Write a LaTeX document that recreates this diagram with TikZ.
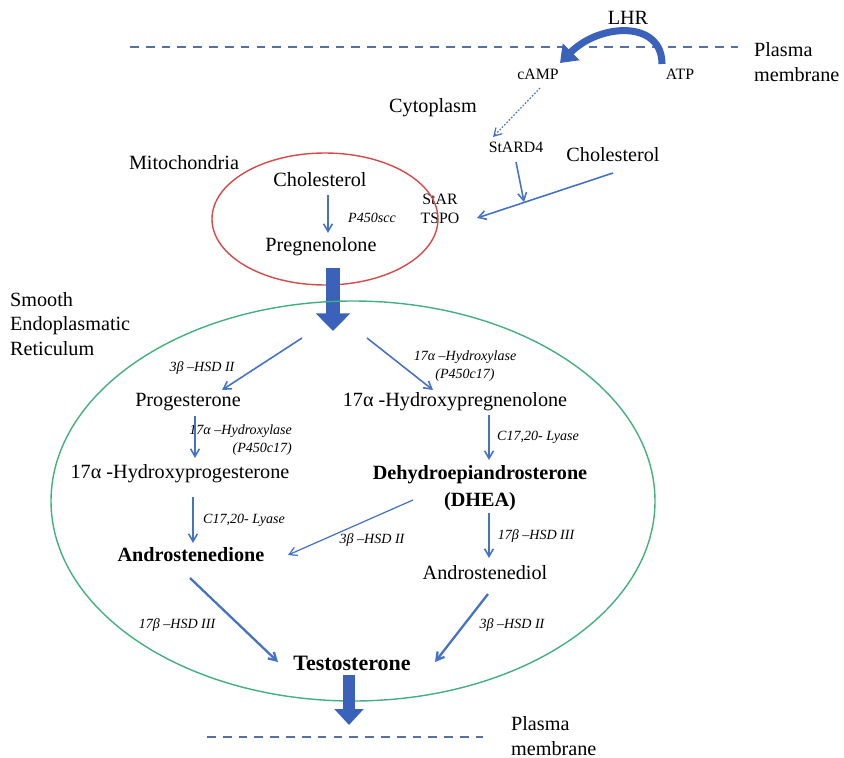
\documentclass[tikz,border=0pt]{standalone}
\usepackage{fontspec}
\setmainfont{Liberation Serif}
\usetikzlibrary{positioning, arrows.meta, calc}
\definecolor{arrowb}{RGB}{68,114,196}
\definecolor{thickb}{RGB}{58,98,186}
\definecolor{memb}{RGB}{84,112,164}
\definecolor{mitor}{RGB}{214,74,74}
\definecolor{serg}{RGB}{66,176,128}

\begin{document}
\begin{tikzpicture}[x=0.02cm, y=-0.02cm,
    every node/.style={inner sep=1pt, font=\rmfamily\fontsize{11.5}{14}\selectfont},
    small/.style={font=\rmfamily\fontsize{9}{10.5}\selectfont},
    enz/.style={font=\rmfamily\fontsize{8}{10}\selectfont\itshape},
    key/.style={font=\rmfamily\fontsize{11.5}{15}\selectfont\bfseries},
    ->/.style={-{Straight Barb[angle=60:5pt]}, arrowb, line width=0.9pt},
    membrane/.style={memb, line width=1.2pt, dash pattern=on 5pt off 4pt},
    big/.style={thickb, line width=8pt, -{Triangle[width=19pt,length=10pt]}}]
  \useasboundingbox (0,0) rectangle (844,757);

  % membrane and receptor
  \draw[membrane] (130,47) -- (738,47);
  \node (lhr) at (628,18) {LHR};
  \node[small] (camp) at (538,74) {cAMP};
  \node[small] (atp) at (680,74) {ATP};
  \node[anchor=west, align=left] (pmtop) at (752,62) {Plasma\\membrane};
  \draw[thickb, line width=4pt, -{Triangle[width=13pt,length=9pt]}]
    ($(atp)+(-18,-10)$) .. controls +(0,-44) and +(40,-40) .. ($(camp)+(22,-11)$);

  % cytoplasm
  \node (cyto) at (433,108) {Cytoplasm};
  \node[small] (stard) at (516,147) {StARD4};
  \node (cholc) at (613,155) {Cholesterol};
  \node[small, align=center] (star) at (440,209) {StAR\\TSPO};
  \coordinate (join) at (524,202);
  \draw[->, densely dotted, line width=0.7pt] ($(camp)+(2,14)$) -- ($(stard)+(-23,-10)$);
  \draw[->] ($(stard)+(0,15)$) -- (join);
  \draw[->] ($(cholc)+(0,18)$) -- ($(star)+(37,9)$);

  % mitochondria
  \node (mito) at (184,163) {Mitochondria};
  \draw[mitor, line width=0.8pt] (325,219) ellipse [x radius=113, y radius=66];
  \node (cholm) at (320,180) {Cholesterol};
  \node (preg) at (321,247) {Pregnenolone};
  \node[enz] (scc) at (372,218) {P450scc};
  \draw[->] ($(cholm)+(8,15)$) -- ($(preg)+(7,-14)$);
  \coordinate (erin) at (333,331);
  \draw[big] ($(preg)+(12,21)$) -- (erin);

  % smooth endoplasmatic reticulum
  \node[anchor=west, align=left] (ser) at (8,324) {Smooth\\Endoplasmatic\\Reticulum};
  \draw[serg, line width=0.8pt] (353,501) ellipse [x radius=302, y radius=200];

  \node (prog) at (188,402) {Progesterone};
  \node (ohpreg) at (455,402) {17α -Hydroxypregnenolone};
  \node (ohprog) at (180,474) {17α -Hydroxyprogesterone};
  \node[key, align=center] (dhea) at (480,488) {Dehydroepiandrosterone\\(DHEA)};
  \node[key] (andro) at (191,555) {Androstenedione};
  \node (adiol) at (485,573) {Androstenediol};
  \node[key, font=\rmfamily\fontsize{12.5}{15}\selectfont\bfseries] (testo) at (352,663) {Testosterone};

  \node[enz] (e1) at (202,368) {3β –HSD II};
  \node[enz, align=center] (e2) at (465,366) {17α –Hydroxylase\\(P450c17)};
  \node[enz, align=right, anchor=east] (e3) at (294,440) {17α –Hydroxylase\\(P450c17)};
  \node[enz] (e4) at (538,437) {C17,20- Lyase};
  \node[enz] (e5) at (244,520) {C17,20- Lyase};
  \node[enz] (e6) at (372,540) {3β –HSD II};
  \node[enz] (e7) at (536,536) {17β –HSD III};
  \node[enz] (e8) at (177,625) {17β –HSD III};
  \node[enz] (e9) at (512,625) {3β –HSD II};

  \draw[->] ($(erin)+(-31,7)$) -- ($(prog)+(34,-12)$);
  \draw[->] ($(erin)+(34,7)$) -- ($(ohpreg)+(-22,-12)$);
  \draw[->] ($(prog)+(7,14)$) -- ($(ohprog)+(15,-16)$);
  \draw[->] ($(ohpreg)+(34,13)$) -- ($(dhea)+(9,-28)$);
  \draw[->] ($(ohprog)+(13,23)$) -- ($(andro)+(2,-12)$);
  \draw[->, line width=0.7pt] ($(dhea)+(-67,12)$) -- ($(andro)+(97,0)$);
  \draw[->] ($(dhea)+(9,25)$) -- ($(adiol)+(4,-15)$);
  \draw[->, line width=1.3pt] ($(andro)+(-1,23)$) -- ($(testo)+(-74,-1)$);
  \draw[->, line width=1.3pt] ($(adiol)+(3,21)$) -- ($(testo)+(83,-1)$);

  % export
  \coordinate (out) at (349,725);
  \draw[big, line width=7pt, -{Triangle[width=16pt,length=9pt]}] ($(testo)+(-3,12)$) -- (out);
  \draw[membrane] (207,737) -- (483,737);
  \node[anchor=west, align=left] (pmbot) at (509,736) {Plasma\\membrane};
\end{tikzpicture}
\end{document}
